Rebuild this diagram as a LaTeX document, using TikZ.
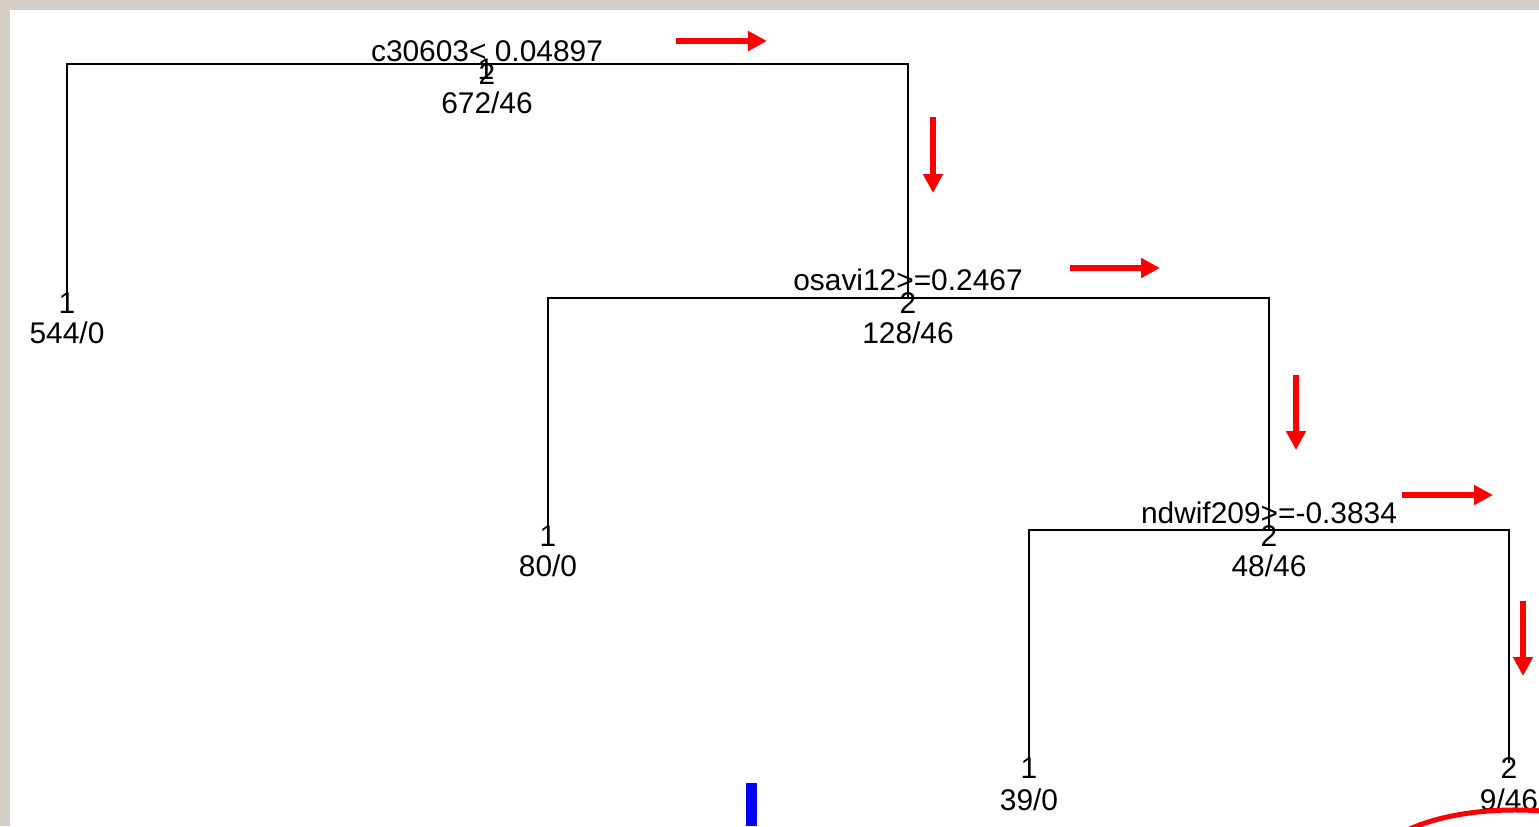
\documentclass[tikz,border=0pt]{standalone}
\usepackage{fontspec}
\setmainfont{Liberation Sans}
\usetikzlibrary{arrows.meta}
\definecolor{canvas}{RGB}{212,206,198}

\begin{document}
\begin{tikzpicture}[x=0.01cm, y=-0.01cm,
  lbl/.style={inner sep=0pt, anchor=base, font=\fontsize{8.5}{10}\selectfont},
  branch/.style={line width=0.02cm},
  flow/.style={red, line width=0.06cm, -{Triangle[length=0.19cm,width=0.19cm]}}]
\useasboundingbox (0,0) rectangle (1539,826);
\fill[canvas] (0,0) rectangle (1539,826);
\fill[white] (10,10) rectangle (1539,826);

% tree nodes
\coordinate (n672) at (487,64);
\coordinate (n544) at (67,298);
\coordinate (n128) at (908,298);
\coordinate (n80) at (548,530);
\coordinate (n48) at (1269,530);
\coordinate (n39) at (1029,763);
\coordinate (n9) at (1509,763);

\draw[branch] (n544) |- (n672) -| (n128);
\draw[branch] (n80) |- (n128) -| (n48);
\draw[branch] (n39) |- (n48) -| (n9);

\node[lbl] (s672) at (487,61) {c30603< 0.04897};
\node[lbl] (k672a) at (486,79) {1};
\node[lbl] (k672) at (487,84) {2};
\node[lbl] (c672) at (487,113) {672/46};

\node[lbl] (k544) at (67,313) {1};
\node[lbl] (c544) at (67,343) {544/0};

\node[lbl] (s128) at (908,290) {osavi12>=0.2467};
\node[lbl] (k128) at (908,313) {2};
\node[lbl] (c128) at (908,343) {128/46};

\node[lbl] (k80) at (548,546) {1};
\node[lbl] (c80) at (548,576) {80/0};

\node[lbl] (s48) at (1269,523) {ndwif209>=-0.3834};
\node[lbl] (k48) at (1269,546) {2};
\node[lbl] (c48) at (1269,576) {48/46};

\node[lbl] (k39) at (1029,778) {1};
\node[lbl] (c39) at (1029,810) {39/0};
\node[lbl] (k9) at (1509,778) {2};
\node[lbl] (c9) at (1509,810) {9/46};

% red path arrows
\coordinate (a1s) at (676,41);  \coordinate (a1e) at (767,41);
\coordinate (a2s) at (933,117); \coordinate (a2e) at (933,193);
\coordinate (a3s) at (1070,268); \coordinate (a3e) at (1160,268);
\coordinate (a4s) at (1296,375); \coordinate (a4e) at (1296,450);
\coordinate (a5s) at (1402,495); \coordinate (a5e) at (1493,495);
\coordinate (a6s) at (1523,601); \coordinate (a6e) at (1523,676);
\foreach \a in {1,...,6}
  \draw[flow] (a\a s) -- (a\a e);

% marks at the bottom
\fill[blue] (746,783) rectangle (757,826);
\begin{scope}
\clip (0,0) rectangle (1539,826);
\draw[red, line width=0.05cm] (1515,866) ellipse [x radius=1.4cm, y radius=0.56cm];
\end{scope}
\end{tikzpicture}
\end{document}
